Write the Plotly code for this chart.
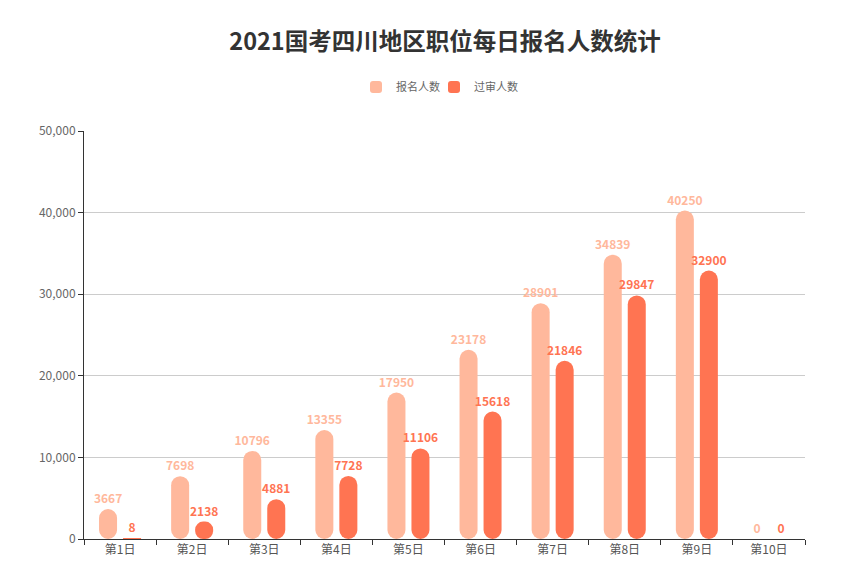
import plotly.graph_objects as go

categories = ["第1日", "第2日", "第3日", "第4日", "第5日", "第6日", "第7日", "第8日", "第9日", "第10日"]
signup = [3667, 7698, 10796, 13355, 17950, 23178, 28901, 34839, 40250, 0]
approved = [8, 2138, 4881, 7728, 11106, 15618, 21846, 29847, 32900, 0]

series = [
    ("报名人数", signup, "#FFB89C", "legend", 356),
    ("过审人数", approved, "#FF7452", "legend2", 434),
]

FONT = "Noto Sans CJK SC, Microsoft YaHei, sans-serif"

W, H = 854, 572  # page body has an 8px margin
T, B, L, R = 123, 41, 76, 57
plot_h = H - T - B
plot_w = W - L - R

fig = go.Figure()
legends = {}
for name, vals, color, leg, left_px in series:
    fig.add_trace(go.Bar(
        x=categories, y=vals, base=[0] * len(vals), name=name,
        marker=dict(color=color, line=dict(width=0)),
        text=[str(v) for v in vals], textposition="outside",
        texttemplate="%{text}", cliponaxis=False, constraintext="none",
        textfont=dict(color=color, size=12, family=FONT, weight="bold"),
        hovertemplate=name + ": %{text}<extra></extra>",
        legend=leg, showlegend=True,
    ))
    legends[leg] = dict(
        orientation="h", x=(left_px - 8 - L) / plot_w, xanchor="left",
        y=1 + (T - 79) / plot_h, yanchor="middle",
        font=dict(size=11, color="#666", family=FONT),
        bgcolor="rgba(0,0,0,0)",
    )

fig.update_layout(
    width=W, height=H,
    margin=dict(l=L, r=R, t=T, b=B, autoexpand=False),
    paper_bgcolor="white", plot_bgcolor="white",
    barmode="group", bargap=0.334, bargroupgap=0.25,
    barcornerradius="50%",
    font=dict(family=FONT, size=12, color="#666"),
    title=dict(text="<b>2021国考四川地区职位每日报名人数统计</b>",
               x=(445 - 8) / W, xanchor="center", y=1 - 34 / H, yanchor="middle",
               font=dict(size=23.5, color="#333", family=FONT)),
    **legends,
)
fig.update_xaxes(
    type="category", showline=True, linecolor="#333", linewidth=1,
    ticks="outside", ticklen=5, tickcolor="#333", tickson="boundaries",
    tickfont=dict(size=12, color="#555"), showgrid=False,
)
fig.update_yaxes(
    range=[0, 50000], dtick=10000, tickformat=",",
    showline=True, linecolor="#333", linewidth=1,
    ticks="outside", ticklen=5, tickcolor="#333",
    gridcolor="#ccc", zeroline=False,
    tickfont=dict(size=12, color="#666"),
)

fig.write_html("out.html")
